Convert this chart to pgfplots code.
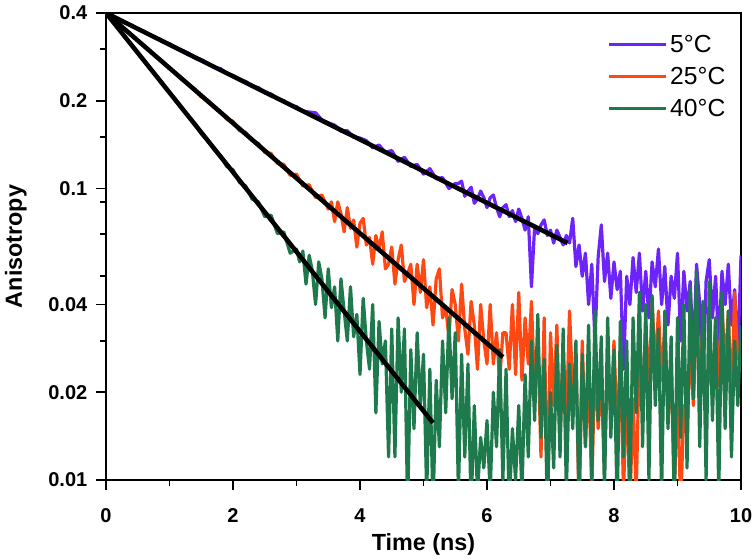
\documentclass[border=0pt]{standalone}
\usepackage{fontspec}
\setmainfont{Liberation Sans}
\usepackage{pgfplots}
\usepackage{pgfplotstable}
\pgfplotsset{compat=1.18}
\definecolor{cpurple}{RGB}{108,36,250}
\definecolor{corange}{RGB}{255,72,18}
\definecolor{cgreen}{RGB}{30,122,76}

\pgfplotstableread{
t y
0 0.400
0.1 0.391
0.2 0.382
0.3 0.370
0.4 0.364
0.5 0.352
0.6 0.346
0.7 0.337
0.8 0.329
0.9 0.318
1.0 0.314
1.1 0.303
1.2 0.298
1.3 0.291
1.4 0.281
1.5 0.277
1.6 0.269
1.7 0.260
1.8 0.258
1.9 0.249
2.0 0.244
2.1 0.236
2.2 0.233
2.3 0.224
2.4 0.222
2.5 0.213
2.6 0.211
2.7 0.203
2.8 0.200
2.9 0.193
3.0 0.191
3.1 0.184
3.2 0.183
3.3 0.182
3.4 0.172
3.5 0.168
3.6 0.165
3.7 0.157
3.8 0.158
3.9 0.150
4.0 0.149
4.1 0.146
4.2 0.138
4.3 0.141
4.4 0.133
4.5 0.135
4.6 0.124
4.7 0.128
4.8 0.119
4.9 0.121
5.0 0.112
5.1 0.117
5.2 0.108
5.3 0.109
5.4 0.100
5.5 0.104
5.55 0.104
5.6 0.106
5.65 0.094
5.7 0.098
5.75 0.101
5.8 0.089
5.85 0.092
5.9 0.098
5.95 0.093
6.0 0.086
6.05 0.093
6.1 0.095
6.15 0.086
6.2 0.080
6.25 0.086
6.3 0.088
6.35 0.080
6.4 0.084
6.45 0.077
6.5 0.085
6.55 0.079
6.6 0.072
6.65 0.080
6.7 0.046
6.75 0.074
6.8 0.070
6.85 0.075
6.9 0.078
6.95 0.069
7.0 0.072
7.05 0.065
7.1 0.072
7.15 0.068
7.2 0.064
7.25 0.069
7.3 0.065
7.35 0.079
7.4 0.054
7.45 0.064
7.5 0.050
7.55 0.060
7.6 0.040
7.65 0.055
7.7 0.030
7.75 0.058
7.8 0.075
7.85 0.048
7.9 0.060
7.95 0.042
8.0 0.056
8.05 0.045
8.1 0.052
8.15 0.024
8.2 0.050
8.25 0.040
8.3 0.058
8.35 0.044
8.4 0.060
8.45 0.038
8.5 0.052
8.55 0.036
8.6 0.056
8.65 0.046
8.7 0.062
8.75 0.040
8.8 0.054
8.85 0.034
8.9 0.050
8.95 0.042
9.0 0.060
9.05 0.030
9.1 0.052
9.15 0.038
9.2 0.048
9.25 0.026
9.3 0.055
9.35 0.040
9.4 0.020
9.45 0.048
9.5 0.057
9.55 0.036
9.6 0.050
9.65 0.028
9.7 0.052
9.75 0.040
9.8 0.055
9.85 0.034
9.9 0.045
9.95 0.026
10.0 0.059
}\purpledata

\pgfplotstableread{
t y
0 0.400
0.1 0.384
0.2 0.366
0.3 0.352
0.4 0.337
0.5 0.322
0.6 0.309
0.7 0.296
0.8 0.282
0.9 0.272
1.0 0.258
1.1 0.249
1.2 0.236
1.3 0.228
1.4 0.219
1.5 0.206
1.6 0.201
1.7 0.190
1.8 0.184
1.9 0.173
2.0 0.170
2.1 0.158
2.2 0.156
2.3 0.146
2.4 0.143
2.5 0.133
2.6 0.132
2.7 0.122
2.8 0.121
2.9 0.111
3.0 0.112
3.1 0.102
3.2 0.103
3.3 0.093
3.4 0.095
3.5 0.085
3.55 0.090
3.6 0.077
3.65 0.090
3.7 0.082
3.75 0.071
3.8 0.086
3.85 0.073
3.9 0.078
3.95 0.063
4.0 0.076
4.05 0.079
4.1 0.064
4.15 0.068
4.2 0.055
4.25 0.069
4.3 0.062
4.35 0.071
4.4 0.053
4.45 0.055
4.5 0.063
4.55 0.047
4.6 0.057
4.65 0.064
4.7 0.048
4.75 0.051
4.8 0.055
4.85 0.040
4.9 0.055
4.95 0.044
5.0 0.057
5.05 0.039
5.1 0.046
5.15 0.034
5.2 0.049
5.25 0.053
5.3 0.036
5.35 0.039
5.4 0.031
5.45 0.045
5.5 0.040
5.55 0.030
5.6 0.047
5.65 0.033
5.7 0.027
5.75 0.041
5.8 0.034
5.85 0.024
5.9 0.040
5.95 0.030
6.0 0.025
6.05 0.040
6.1 0.025
6.15 0.032
6.2 0.022
6.25 0.032
6.3 0.032
6.35 0.024
6.4 0.040
6.45 0.023
6.5 0.044
6.55 0.022
6.6 0.036
6.65 0.025
6.7 0.041
6.75 0.020
6.8 0.030
6.85 0.012
6.9 0.036
6.95 0.009
7.0 0.032
7.05 0.018
7.1 0.034
7.15 0.014
7.2 0.028
7.25 0.016
7.3 0.038
7.35 0.020
7.4 0.026
7.45 0.008
7.5 0.030
7.55 0.013
7.6 0.024
7.65 0.009
7.7 0.027
7.75 0.015
7.8 0.022
7.85 0.011
7.9 0.025
7.95 0.017
8.0 0.030
8.05 0.014
8.1 0.026
8.15 0.009
8.2 0.022
8.25 0.008
8.3 0.019
8.35 0.009
8.4 0.028
8.45 0.018
8.5 0.035
8.55 0.020
8.6 0.041
8.65 0.024
8.7 0.038
8.75 0.022
8.8 0.034
8.85 0.016
8.9 0.025
8.95 0.009
9.0 0.021
9.05 0.008
9.1 0.018
9.15 0.014
9.2 0.030
9.25 0.018
9.3 0.037
9.35 0.022
9.4 0.034
9.45 0.016
9.5 0.028
9.55 0.019
9.6 0.036
9.65 0.021
9.7 0.040
9.75 0.024
9.8 0.038
9.85 0.018
9.9 0.044
9.95 0.026
10.0 0.030
}\orangedata

\pgfplotstableread{
t y
0 0.400
0.1 0.375
0.2 0.354
0.3 0.330
0.4 0.312
0.5 0.291
0.6 0.275
0.7 0.257
0.8 0.243
0.9 0.226
1.0 0.214
1.1 0.199
1.2 0.189
1.3 0.176
1.4 0.167
1.5 0.154
1.6 0.147
1.7 0.136
1.8 0.130
1.9 0.119
2.0 0.116
2.1 0.105
2.2 0.102
2.3 0.092
2.4 0.090
2.5 0.080
2.6 0.081
2.7 0.070
2.8 0.071
2.9 0.060
3.0 0.062
3.05 0.056
3.1 0.061
3.15 0.047
3.2 0.059
3.25 0.052
3.3 0.040
3.35 0.056
3.4 0.049
3.45 0.036
3.5 0.053
3.55 0.039
3.6 0.046
3.65 0.030
3.7 0.049
3.75 0.038
3.8 0.030
3.85 0.046
3.9 0.031
3.95 0.037
4.0 0.023
4.05 0.042
4.1 0.030
4.15 0.024
4.2 0.040
4.25 0.017
4.3 0.035
4.35 0.025
4.4 0.030
4.45 0.012
4.5 0.033
4.55 0.012
4.6 0.036
4.65 0.020
4.7 0.033
4.75 0.008
4.8 0.028
4.85 0.015
4.9 0.032
4.95 0.018
5.0 0.027
5.05 0.009
5.1 0.024
5.15 0.008
5.2 0.022
5.25 0.013
5.3 0.030
5.35 0.017
5.4 0.036
5.45 0.019
5.5 0.032
5.55 0.009
5.6 0.027
5.65 0.012
5.7 0.025
5.75 0.008
5.8 0.018
5.85 0.009
5.9 0.014
5.95 0.011
6.0 0.016
6.05 0.009
6.1 0.020
6.15 0.013
6.2 0.028
6.25 0.010
6.3 0.024
6.35 0.008
6.4 0.015
6.45 0.010
6.5 0.018
6.55 0.009
6.6 0.023
6.65 0.012
6.7 0.030
6.75 0.016
6.8 0.037
6.85 0.014
6.9 0.026
6.95 0.008
7.0 0.020
7.05 0.011
7.1 0.029
7.15 0.012
7.2 0.033
7.25 0.009
7.3 0.025
7.35 0.015
7.4 0.030
7.45 0.008
7.5 0.027
7.55 0.013
7.6 0.034
7.65 0.010
7.7 0.038
7.75 0.016
7.8 0.031
7.85 0.009
7.9 0.036
7.95 0.014
8.0 0.028
8.05 0.008
8.1 0.035
8.15 0.012
8.2 0.030
8.25 0.009
8.3 0.036
8.35 0.017
8.4 0.044
8.45 0.013
8.5 0.040
8.55 0.010
8.6 0.043
8.65 0.018
8.7 0.033
8.75 0.009
8.8 0.038
8.85 0.015
8.9 0.031
8.95 0.008
9.0 0.036
9.05 0.014
9.1 0.040
9.15 0.011
9.2 0.046
9.25 0.019
9.3 0.052
9.35 0.013
9.4 0.041
9.45 0.010
9.5 0.048
9.55 0.016
9.6 0.036
9.65 0.009
9.7 0.044
9.75 0.015
9.8 0.038
9.85 0.012
9.9 0.030
9.95 0.018
10.0 0.034
}\greendata

\begin{document}
\begin{tikzpicture}
\begin{axis}[
  at={(0,0)}, anchor=south west,
  scale only axis,
  width=476.25pt, height=350.25pt,
  ymode=log,
  xmin=0, xmax=10, ymin=0.01, ymax=0.4,
  xtick={0,2,4,6,8,10},
  minor xtick={1,3,5,7,9},
  ytick={0.01,0.02,0.04,0.1,0.2,0.4},
  yticklabels={0.01,0.02,0.04,0.1,0.2,0.4},
  minor ytick={0.03,0.05,0.07,0.09,0.15,0.3},
  tick align=outside,
  major tick length=7.5pt,
  minor tick length=4.5pt,
  every tick/.style={black, line width=1.4pt},
  axis line style={line width=1.5pt},
  xtick pos=bottom, ytick pos=left,
  /pgf/number format/assume math mode=true,
  tick label style={font=\fontsize{15}{18}\selectfont\bfseries},
  xticklabel style={anchor=north, yshift=-10.5pt},
  yticklabel style={anchor=east, xshift=-3pt},
  label style={font=\fontsize{17.5}{21}\selectfont\bfseries},
  xlabel={Time (ns)},
  ylabel={Anisotropy},
  xlabel style={at={(axis description cs:0.5,-0.139)}, anchor=center},
  ylabel style={at={(axis description cs:-0.142,0.5)}, anchor=center},
  legend style={at={(axis description cs:0.789,0.958)}, anchor=north west,
    draw=none, fill=none, font=\fontsize{18.5}{22}\selectfont,
    row sep=5.5pt, inner sep=0pt, outer sep=0pt},
  legend cell align=left,
  legend image code/.code={\draw[#1, line width=2.4pt] (0pt,0pt) -- (43pt,0pt);},
  clip=true,
]
\addplot[cpurple, line width=2.4pt, line join=round] table[x=t, y=y] {\purpledata};
\addlegendentry{5°C}
\addplot[corange, line width=2.4pt, line join=round] table[x=t, y=y] {\orangedata};
\addlegendentry{25°C}
\addplot[cgreen, line width=2.4pt, line join=round] table[x=t, y=y] {\greendata};
\addlegendentry{40°C}
\addplot[black, line width=3.4pt, forget plot] coordinates {(0,0.4) (7.27,0.065)};
\addplot[black, line width=3.4pt, forget plot] coordinates {(0,0.4) (6.25,0.0264)};
\addplot[black, line width=3.4pt, forget plot] coordinates {(0,0.4) (5.15,0.0157)};
\end{axis}
\pgfresetboundingbox
\path[use as bounding box] ([shift={(-79.5pt,-59.25pt)}]current axis.south west) rectangle ([shift={(11.25pt,9.75pt)}]current axis.north east);
\end{tikzpicture}
\end{document}
